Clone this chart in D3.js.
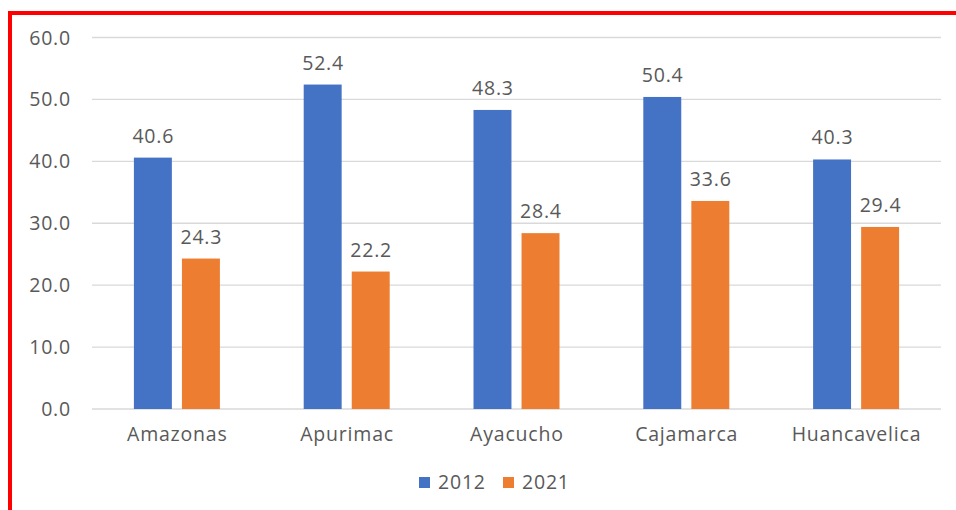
<!DOCTYPE html>
<html><head><meta charset="utf-8">
<script src="https://cdn.jsdelivr.net/npm/d3@7"></script>
<style>body{margin:0;background:#fff}svg{display:block}</style>
</head><body>
<script>
const categories = ["Amazonas","Apurimac","Ayacucho","Cajamarca","Huancavelica"];
const series = ["2012","2021"];
const values2012 = [40.6,52.4,48.3,50.4,40.3];
const values2021 = [24.3,22.2,28.4,33.6,29.4];
const yTicks = [0,10,20,30,40,50,60];
const colors = ["#4472C4","#ED7D31"];

(function(){
const W=956,H=510;
const svg=d3.select("body").append("svg").attr("width",W).attr("height",H);
svg.append("rect").attr("x",0).attr("y",0).attr("width",W).attr("height",H).attr("fill","#fff");
svg.append("rect").attr("x",10).attr("y",13).attr("width",W+20).attr("height",H+20)
  .attr("fill","none").attr("stroke","#FF0000").attr("stroke-width",4);

const pL=92,pR=941,pT=37.5,pB=409;
const font="'Open Sans', 'Segoe UI', sans-serif";
const fs=19.5, ls=0.8;
const y=d3.scaleLinear().domain([0,60]).range([pB,pT]);
const x0=d3.scaleBand().domain(categories).range([pL,pR]).paddingInner(0).paddingOuter(0);
const x1=d3.scaleBand().domain(series).range([0,86]).paddingInner(0.21);
const off=(x0.bandwidth()-86)/2;
const txt=sel=>sel.attr("font-family",font).attr("font-size",fs).attr("letter-spacing",ls).attr("fill","#595959");

svg.append("g").selectAll("line").data(yTicks).join("line")
  .attr("x1",pL).attr("x2",pR).attr("y1",d=>y(d)).attr("y2",d=>y(d))
  .attr("stroke","#D9D9D9").attr("stroke-width",1.3);
svg.append("g").selectAll("text").data(yTicks).join("text")
  .attr("x",71).attr("y",d=>y(d)+7).attr("text-anchor","end")
  .call(txt).text(d=>d.toFixed(1));

const data=categories.map((c,i)=>({c,vals:[values2012[i],values2021[i]]}));
const g=svg.append("g").selectAll("g").data(data).join("g")
  .attr("transform",d=>`translate(${x0(d.c)+off},0)`);
g.selectAll("rect").data(d=>d.vals.map((v,j)=>({v,s:series[j],j}))).join("rect")
  .attr("x",d=>x1(d.s)).attr("width",x1.bandwidth())
  .attr("y",d=>y(d.v)).attr("height",d=>y(0)-y(d.v)).attr("fill",d=>colors[d.j]);
g.selectAll("text").data(d=>d.vals.map((v,j)=>({v,s:series[j],j}))).join("text")
  .attr("x",d=>x1(d.s)+x1.bandwidth()/2+ls/2).attr("y",d=>y(d.v)-15)
  .attr("text-anchor","middle").call(txt)
  .text(d=>d.v.toFixed(1));

svg.append("g").selectAll("text").data(categories).join("text")
  .attr("x",d=>x0(d)+x0.bandwidth()/2+ls/2).attr("y",441).attr("text-anchor","middle")
  .call(txt).text(d=>d);

const lg=svg.append("g").selectAll("g").data(series).join("g")
  .attr("transform",(d,i)=>`translate(${419+i*84},0)`);
lg.append("rect").attr("x",0).attr("y",477).attr("width",11).attr("height",11).attr("fill",(d,i)=>colors[i]);
lg.append("text").attr("x",19).attr("y",489).call(txt).text(d=>d);
})();
</script>
</body></html>
